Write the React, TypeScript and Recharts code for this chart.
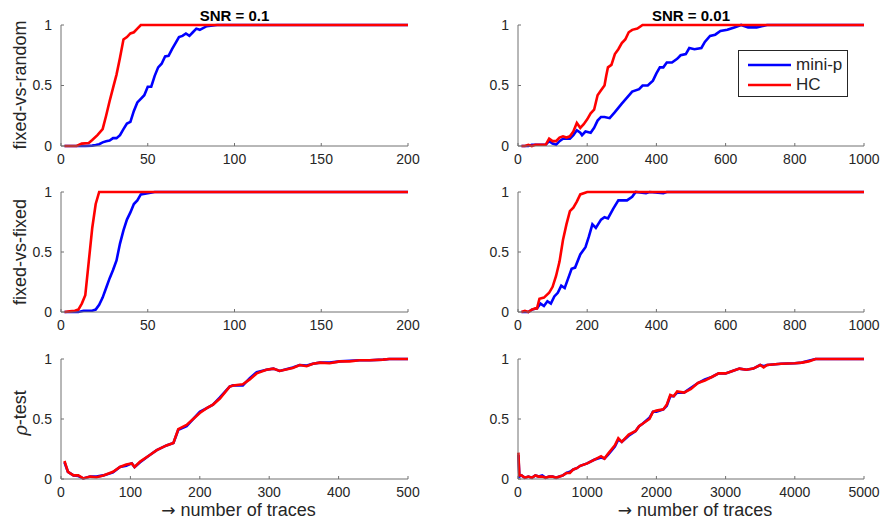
import React from "react";
import { Label, Legend, Line, LineChart, XAxis, YAxis } from "recharts";

type Pt = [number, number];

// x = number of traces, y = success rate
const fvrMiniP01: Pt[] = [[2,0],[14,0],[18,0.003],[20,0.008],[22,0.015],[24,0.03],[26,0.04],[28,0.045],[30,0.065],[32,0.065],[34,0.09],[36,0.14],[38,0.185],[40,0.2],[42,0.29],[44,0.36],[46,0.39],[48,0.42],[50,0.49],[52,0.49],[54,0.58],[56,0.65],[58,0.68],[60,0.74],[62,0.745],[64,0.8],[66,0.85],[68,0.9],[70,0.91],[72,0.93],[74,0.91],[76,0.94],[78,0.97],[80,0.96],[84,0.99],[90,1],[200,1]];
const fvrHC01: Pt[] = [[2,0],[9,0],[12,0.02],[16,0.025],[18,0.05],[21,0.09],[24,0.14],[26,0.25],[28,0.37],[30,0.48],[32,0.59],[34,0.73],[36,0.88],[38,0.9],[40,0.93],[42,0.94],[44,0.97],[46,1],[200,1]];

const fvrMiniP001: Pt[] = [[10,0],[30,0],[40,0.01],[60,0.01],[80,0.01],[90,0.04],[100,0.02],[110,0.01],[120,0.04],[130,0.06],[150,0.06],[160,0.09],[170,0.13],[180,0.11],[185,0.09],[195,0.12],[210,0.11],[220,0.15],[230,0.21],[240,0.24],[250,0.24],[265,0.23],[280,0.28],[300,0.35],[315,0.4],[330,0.45],[350,0.47],[360,0.5],[375,0.5],[390,0.54],[400,0.6],[410,0.65],[420,0.65],[430,0.69],[445,0.69],[460,0.72],[470,0.75],[485,0.76],[495,0.81],[510,0.8],[530,0.81],[540,0.86],[555,0.91],[570,0.92],[585,0.95],[605,0.96],[625,0.98],[645,1],[665,0.98],[690,0.98],[720,1],[1000,1]];
const fvrHC001: Pt[] = [[10,0],[20,0],[30,0.01],[40,0],[50,0.01],[60,0.01],[80,0.01],[90,0.06],[100,0.04],[110,0.04],[120,0.07],[130,0.08],[140,0.07],[150,0.08],[160,0.12],[170,0.19],[180,0.15],[190,0.18],[200,0.22],[210,0.27],[220,0.3],[230,0.42],[240,0.46],[250,0.5],[255,0.58],[260,0.65],[270,0.67],[280,0.76],[290,0.8],[300,0.85],[310,0.88],[320,0.94],[330,0.96],[345,0.97],[360,1],[1000,1]];

const fvfMiniP01: Pt[] = [[2,0],[10,0],[13,0.01],[18,0.01],[20,0.02],[22,0.06],[24,0.12],[26,0.2],[28,0.28],[30,0.35],[32,0.43],[34,0.57],[36,0.68],[38,0.77],[40,0.83],[42,0.9],[44,0.93],[46,0.98],[50,0.99],[54,1],[200,1]];
const fvfHC01: Pt[] = [[2,0],[5,0.005],[8,0.01],[10,0.02],[12,0.07],[14,0.14],[16,0.42],[18,0.7],[20,0.9],[22,1],[200,1]];

const fvfMiniP001: Pt[] = [[10,0],[30,0],[40,0.02],[55,0.03],[65,0.07],[75,0.05],[85,0.09],[95,0.07],[105,0.13],[115,0.16],[125,0.22],[135,0.2],[145,0.28],[155,0.36],[165,0.37],[180,0.48],[195,0.54],[205,0.63],[215,0.73],[225,0.7],[240,0.77],[250,0.79],[260,0.78],[275,0.86],[290,0.93],[300,0.93],[315,0.93],[330,0.96],[340,1],[370,0.99],[380,1],[420,0.99],[430,1],[1000,1]];
const fvfHC001: Pt[] = [[10,0],[20,0.01],[30,0],[40,0.02],[50,0.03],[55,0.03],[62,0.11],[75,0.12],[90,0.16],[100,0.21],[110,0.3],[120,0.42],[130,0.6],[140,0.73],[150,0.84],[160,0.87],[170,0.92],[180,0.98],[200,1],[1000,1]];

const rhoMiniP01: Pt[] = [[5,0.14],[10,0.06],[18,0.03],[25,0.025],[32,0.005],[42,0.02],[51,0.02],[61,0.03],[75,0.055],[85,0.1],[94,0.11],[102,0.13],[106,0.1],[114,0.14],[128,0.2],[138,0.24],[152,0.28],[162,0.3],[169,0.41],[181,0.44],[200,0.56],[210,0.59],[219,0.62],[229,0.68],[243,0.77],[248,0.78],[262,0.78],[272,0.84],[282,0.89],[296,0.91],[306,0.92],[315,0.9],[334,0.93],[344,0.95],[354,0.945],[363,0.96],[373,0.97],[387,0.97],[402,0.98],[416,0.985],[430,0.99],[445,0.99],[464,0.995],[473,1],[500,1]];
const rhoHC01: Pt[] = [[5,0.15],[10,0.06],[18,0.03],[25,0.03],[32,0.005],[42,0.02],[51,0.015],[61,0.03],[75,0.06],[85,0.1],[94,0.12],[102,0.13],[106,0.1],[114,0.145],[128,0.2],[138,0.24],[152,0.28],[162,0.3],[169,0.415],[181,0.45],[200,0.55],[210,0.59],[219,0.62],[229,0.67],[243,0.77],[248,0.78],[262,0.79],[272,0.83],[282,0.88],[296,0.91],[306,0.92],[315,0.9],[334,0.925],[344,0.95],[354,0.94],[363,0.96],[373,0.97],[387,0.965],[402,0.98],[416,0.98],[430,0.99],[445,0.99],[464,0.995],[473,1],[500,1]];

const rhoMiniP001: Pt[] = [[5,0.2],[20,0.02],[50,0.03],[100,0.01],[150,0.02],[200,0.01],[250,0.03],[300,0.02],[350,0.03],[400,0.01],[450,0.02],[500,0.02],[550,0.01],[600,0.02],[650,0.03],[700,0.05],[750,0.06],[800,0.08],[850,0.09],[900,0.11],[1000,0.13],[1100,0.16],[1200,0.18],[1250,0.17],[1300,0.2],[1400,0.27],[1450,0.33],[1500,0.31],[1600,0.36],[1700,0.4],[1750,0.44],[1800,0.46],[1900,0.51],[1950,0.56],[2000,0.56],[2100,0.58],[2150,0.61],[2200,0.69],[2250,0.69],[2300,0.72],[2400,0.72],[2500,0.76],[2600,0.8],[2700,0.83],[2800,0.85],[2900,0.88],[3000,0.88],[3100,0.9],[3200,0.92],[3300,0.91],[3400,0.92],[3500,0.95],[3550,0.94],[3600,0.95],[3800,0.96],[4000,0.965],[4100,0.97],[4200,0.985],[4300,1],[5000,1]];
const rhoHC001: Pt[] = [[5,0.22],[20,0.03],[50,0.03],[100,0.01],[150,0.02],[200,0.01],[250,0.03],[300,0.02],[350,0.02],[400,0.01],[450,0.02],[500,0.02],[550,0.01],[600,0.02],[650,0.03],[700,0.05],[750,0.05],[800,0.08],[850,0.09],[900,0.11],[1000,0.13],[1100,0.16],[1200,0.19],[1250,0.17],[1300,0.21],[1400,0.28],[1450,0.34],[1500,0.31],[1600,0.37],[1700,0.4],[1750,0.44],[1800,0.46],[1900,0.5],[1950,0.56],[2000,0.57],[2100,0.58],[2150,0.62],[2200,0.7],[2250,0.69],[2300,0.73],[2400,0.72],[2500,0.75],[2600,0.8],[2700,0.82],[2800,0.85],[2900,0.88],[3000,0.88],[3100,0.9],[3200,0.92],[3300,0.91],[3400,0.92],[3500,0.95],[3550,0.93],[3600,0.95],[3800,0.96],[4000,0.965],[4100,0.97],[4200,0.98],[4300,1],[5000,1]];

const ticks200 = [0, 50, 100, 150, 200];
const ticks1000 = [0, 200, 400, 600, 800, 1000];
const ticks500 = [0, 100, 200, 300, 400, 500];
const ticks5000 = [0, 1000, 2000, 3000, 4000, 5000];
const yTicks = [0, 0.5, 1];
const seriesOrder = ["mini-p", "HC"];

const FONT = "'Liberation Sans', Arial, Helvetica, sans-serif";
const INK = "#262626";
const AXIS = "#707070";

const rows = (pts: Pt[]) => pts.map(([x, y]) => ({ x, y }));

function LegendBox({ payload }: any) {
  const items = [...(payload || [])].sort((a: any, b: any) => seriesOrder.indexOf(a.value) - seriesOrder.indexOf(b.value));
  return (
    <div style={{ width: 110, height: 47, boxSizing: "border-box", border: `1px solid ${INK}`, background: "#fff", paddingTop: 4, fontFamily: FONT, fontSize: 17, color: INK }}>
      {items.map((p: any) => (
        <div key={p.value} style={{ display: "flex", alignItems: "center", height: 20 }}>
          <svg width={57} height={20}>
            <line x1={9} x2={52} y1={10} y2={10} stroke={p.color} strokeWidth={2.6} />
          </svg>
          <span>{p.value}</span>
        </div>
      ))}
    </div>
  );
}

type PanelProps = {
  left: number; top: number; width: number; height: number;
  plotLeft: number; plotRight: number; plotTop: number; plotBottom: number;
  xMax: number; xTicks: number[]; miniP: Pt[]; hc: Pt[];
  title?: string; yLabel?: React.ReactNode; yLabelY?: number; xLabel?: boolean; legend?: boolean;
};

function Panel(p: PanelProps) {
  const tick = { fill: INK, fontSize: 14, fontFamily: FONT };
  const cx = (p.plotLeft + p.plotRight) / 2;
  return (
    <div style={{ position: "absolute", left: p.left, top: p.top }}>
      <LineChart width={p.width} height={p.height} margin={{ top: p.plotTop, right: p.width - p.plotRight, left: 0, bottom: 0 }}>
        <XAxis type="number" dataKey="x" domain={[0, p.xMax]} ticks={p.xTicks} interval={0}
          height={p.height - p.plotBottom} stroke={AXIS} tick={tick} tickSize={-3} tickMargin={11}>
          {p.xLabel && (
            <Label content={() => (
              <text x={cx + 4} y={p.height - 7} textAnchor="middle" fontFamily={FONT} fontSize={18} fill={INK}>
                <tspan fontFamily="'DejaVu Sans', sans-serif" fontSize={17}>→</tspan> number of traces
              </text>
            )} />
          )}
        </XAxis>
        <YAxis type="number" domain={[0, 1]} ticks={yTicks} interval={0} width={p.plotLeft}
          stroke={AXIS} tick={tick} tickSize={-3} tickMargin={12}>
          <Label content={() => (
            <g>
              {p.title && (
                <text x={cx} y={15} textAnchor="middle" dominantBaseline="central" fontFamily={FONT} fontWeight="bold" fontSize={15} fill="#000">
                  {p.title}
                </text>
              )}
              {p.yLabel && (
                <text x={20} y={p.yLabelY} transform={`rotate(-90 20 ${p.yLabelY})`} textAnchor="middle" dominantBaseline="central"
                  fontFamily={FONT} fontSize={18} fill={INK}>
                  {p.yLabel}
                </text>
              )}
            </g>
          )} />
        </YAxis>
        {p.legend && (
          <Legend layout="vertical" align="center" verticalAlign="middle" content={<LegendBox />}
            wrapperStyle={{ left: 298, top: 50, width: 110, height: 47 }} />
        )}
        <Line data={rows(p.miniP)} dataKey="y" name="mini-p" type="linear" stroke="#0000ff" strokeWidth={2.6} dot={false} activeDot={false} isAnimationActive={false} />
        <Line data={rows(p.hc)} dataKey="y" name="HC" type="linear" stroke="#ff0000" strokeWidth={2.6} dot={false} activeDot={false} isAnimationActive={false} />
      </LineChart>
    </div>
  );
}

export default function App() {
  const L = { left: 0, width: 420, plotLeft: 61, plotRight: 408 };
  const R = { left: 440, width: 441, plotLeft: 78, plotRight: 424 };
  return (
    <div style={{ position: "absolute", left: 0, top: 0, width: 881, height: 523, background: "#fff" }}>
      <Panel {...L} top={0} height={170} plotTop={25} plotBottom={146} xMax={200} xTicks={ticks200}
        miniP={fvrMiniP01} hc={fvrHC01} title="SNR = 0.1" yLabel="fixed-vs-random" yLabelY={85} />
      <Panel {...R} top={0} height={170} plotTop={25} plotBottom={146} xMax={1000} xTicks={ticks1000}
        miniP={fvrMiniP001} hc={fvrHC001} title="SNR = 0.01" legend />
      <Panel {...L} top={170} height={170} plotTop={22} plotBottom={142} xMax={200} xTicks={ticks200}
        miniP={fvfMiniP01} hc={fvfHC01} yLabel="fixed-vs-fixed" yLabelY={82} />
      <Panel {...R} top={170} height={170} plotTop={22} plotBottom={142} xMax={1000} xTicks={ticks1000}
        miniP={fvfMiniP001} hc={fvfHC001} />
      <Panel {...L} top={340} height={183} plotTop={19} plotBottom={139} xMax={500} xTicks={ticks500}
        miniP={rhoMiniP01} hc={rhoHC01} xLabel
        yLabel={<><tspan fontStyle="italic" fontFamily="'DejaVu Serif', serif">ρ</tspan>-test</>} yLabelY={73} />
      <Panel {...R} top={340} height={183} plotTop={19} plotBottom={139} xMax={5000} xTicks={ticks5000}
        miniP={rhoMiniP001} hc={rhoHC001} xLabel />
    </div>
  );
}
